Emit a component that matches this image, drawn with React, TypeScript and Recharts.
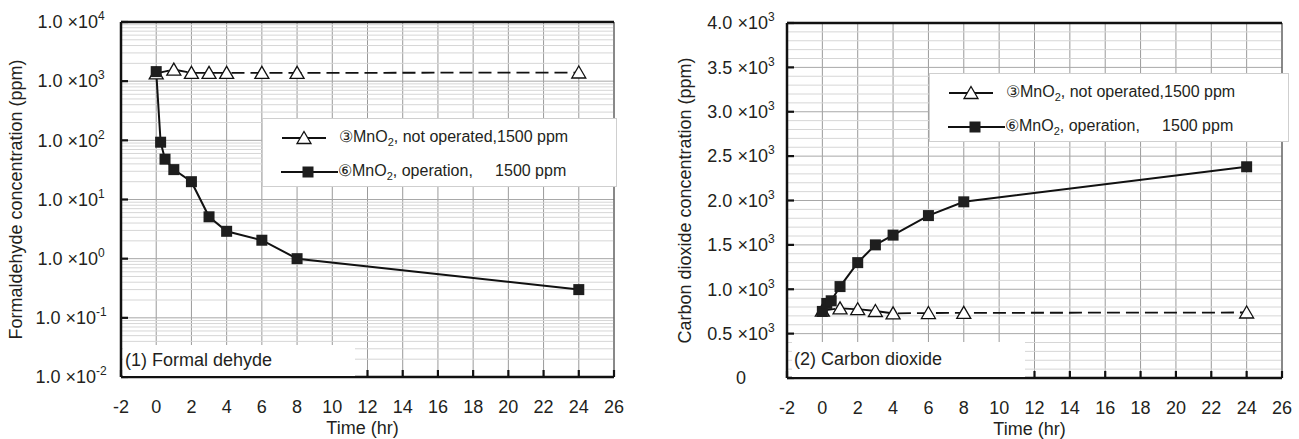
import React from 'react';
import { LineChart, Line, XAxis, YAxis, CartesianGrid, ReferenceLine, Label } from 'recharts';

const FONT = '"Liberation Sans", Arial, Helvetica, sans-serif';
const INK = '#231f20';
const FS = 18;
const SUP = 12;
const LFS = 16;

// ---- ticks ----
const timeTicks = [-2, 0, 2, 4, 6, 8, 10, 12, 14, 16, 18, 20, 22, 24, 26];
const hchoTicks = [0.01, 0.1, 1, 10, 100, 1000, 10000];
const co2Ticks = [0, 500, 1000, 1500, 2000, 2500, 3000, 3500, 4000];

// ---- formaldehyde (ppm) ----
const hchoIdleTime = [0, 1, 2, 3, 4, 6, 8, 24];
const hchoIdlePpm = [1350, 1570, 1380, 1380, 1380, 1380, 1380, 1400];
const hchoOperTime = [0, 0.25, 0.5, 1, 2, 3, 4, 6, 8, 24];
const hchoOperPpm = [1450, 93, 48, 32, 20, 5.1, 2.9, 2.05, 1.0, 0.3];

// ---- carbon dioxide (ppm) ----
const co2IdleTime = [0, 1, 2, 3, 4, 6, 8, 24];
const co2IdlePpm = [760, 785, 775, 755, 728, 732, 734, 738];
const co2OperTime = [0, 0.25, 0.5, 1, 2, 3, 4, 6, 8, 24];
const co2OperPpm = [750, 840, 870, 1030, 1300, 1500, 1610, 1830, 1985, 2380];

// ---- texts ----
const idleName = ['③MnO', '2', ', not operated,1500 ppm'];
const operName = ['⑥MnO', '2', ', operation,     1500 ppm'];
const hchoTitle = 'Formaldehyde concentration (ppm)';
const co2Title = 'Carbon dioxide concentration (ppm)';
const timeTitle = 'Time (hr)';
const hchoPanel = '(1) Formal dehyde';
const co2Panel = '(2) Carbon dioxide';

const zip = (t: number[], v: number[]) => t.map((x, i) => ({ t: x, v: v[i] }));
const hchoIdle = zip(hchoIdleTime, hchoIdlePpm);
const hchoOper = zip(hchoOperTime, hchoOperPpm);
const co2Idle = zip(co2IdleTime, co2IdlePpm);
const co2Oper = zip(co2OperTime, co2OperPpm);

// grid values
const hchoMinor: number[] = [];
for (let d = -2; d <= 3; d++) for (let m = 2; m <= 9; m++) hchoMinor.push(m * Math.pow(10, d));
const hchoMajor = [0.1, 1, 10, 100, 1000];
const co2Minor: number[] = [];
for (let v = 100; v < 4000; v += 100) if (v % 500 !== 0) co2Minor.push(v);
const co2Major = [500, 1000, 1500, 2000, 2500, 3000, 3500];

const Tri = ({ cx, cy }: { cx: number; cy: number }) => (
  <polygon
    points={`${cx},${cy - 6.5} ${cx + 7},${cy + 5.5} ${cx - 7},${cy + 5.5}`}
    fill="#fff"
    stroke="#111"
    strokeWidth={1.3}
  />
);
const Sq = ({ cx, cy }: { cx: number; cy: number }) => (
  <rect x={cx - 5.5} y={cy - 5.5} width={11} height={11} fill="#1e1e1e" />
);

const triDot = (p: any) => <Tri key={`t${p.index}`} cx={p.cx} cy={p.cy} />;
const sqDot = (p: any) => <Sq key={`s${p.index}`} cx={p.cx} cy={p.cy} />;

const LogTick = (props: any) => {
  const { x, y, payload } = props;
  const e = Math.round(Math.log10(payload.value));
  return (
    <g>
      <line x1={x} y1={y} x2={x + 7} y2={y} stroke="#111" strokeWidth={2.2} />
      <text x={x - 50} y={y + 6.3} textAnchor="middle" fontSize={FS} fontFamily={FONT} fill={INK}>
        1.0 ×10<tspan dy={-8} fontSize={SUP}>{e}</tspan>
      </text>
    </g>
  );
};

const LinTick = (props: any) => {
  const { x, y, payload } = props;
  const v = payload.value as number;
  return (
    <g>
      <line x1={x} y1={y} x2={x + 7} y2={y} stroke="#111" strokeWidth={2.2} />
      {v === 0 ? (
        <text x={x - 46} y={y + 6.3} textAnchor="middle" fontSize={FS} fontFamily={FONT} fill={INK}>0</text>
      ) : (
        <text x={x - 46} y={y + 6.3} textAnchor="middle" fontSize={FS} fontFamily={FONT} fill={INK}>
          {(v / 1000).toFixed(1)} ×10<tspan dy={-8} fontSize={SUP}>3</tspan>
        </text>
      )}
    </g>
  );
};

const TimeTick = (props: any) => {
  const { x, y, payload } = props;
  return (
    <g>
      <line x1={x} y1={y} x2={x} y2={y - 7} stroke="#111" strokeWidth={2.2} />
      <text x={x} y={y + 36} textAnchor="middle" fontSize={FS} fontFamily={FONT} fill={INK}>
        {payload.value}
      </text>
    </g>
  );
};

const yTitle = (text: string, dx: number) => (props: any) => {
  const vb = props.viewBox || {};
  const cx = vb.x + dx;
  const cy = vb.y + vb.height / 2;
  return (
    <text
      x={cx}
      y={cy}
      transform={`rotate(-90, ${cx}, ${cy})`}
      textAnchor="middle"
      dominantBaseline="central"
      fontSize={FS}
      fontFamily={FONT}
      fill={INK}
    >
      {text}
    </text>
  );
};

const xTitle = (props: any) => {
  const vb = props.viewBox || {};
  return (
    <text x={vb.x + vb.width / 2 - 5} y={vb.y + 57} textAnchor="middle" fontSize={FS} fontFamily={FONT} fill={INK}>
      {timeTitle}
    </text>
  );
};

const LegendBox = ({ left, top, width, height }: { left: number; top: number; width: number; height: number }) => {
  const r1 = 19;
  const r2 = 53;
  const txt: React.CSSProperties = { position: 'absolute', whiteSpace: 'pre', lineHeight: '22px', fontSize: LFS };
  const sub: React.CSSProperties = { fontSize: 11, verticalAlign: '-4px', lineHeight: 0 };
  return (
    <div
      style={{
        position: 'absolute',
        left,
        top,
        width,
        height,
        background: '#fff',
        border: '1px solid #cfcfcf',
        boxSizing: 'border-box',
        fontFamily: FONT,
        color: INK,
      }}
    >
      <svg style={{ position: 'absolute', left: 0, top: 0 }} width={width} height={height}>
        <line x1={19} y1={r1} x2={63} y2={r1} stroke="#111" strokeWidth={2} />
        <Tri cx={41} cy={r1} />
        <line x1={18} y1={r2} x2={75} y2={r2} stroke="#111" strokeWidth={2} />
        <Sq cx={45} cy={r2} />
      </svg>
      <div style={{ ...txt, left: 76, top: r1 - 12 }}>
        {idleName[0]}
        <sub style={sub}>{idleName[1]}</sub>
        {idleName[2]}
      </div>
      <div style={{ ...txt, left: 75, top: r2 - 12 }}>
        {operName[0]}
        <sub style={sub}>{operName[1]}</sub>
        {operName[2]}
      </div>
    </div>
  );
};

const PanelLabel = ({ left, top, width, height, text }: any) => (
  <div
    style={{
      position: 'absolute',
      left,
      top,
      width,
      height,
      background: '#fff',
      fontFamily: FONT,
      fontSize: FS,
      color: INK,
      lineHeight: `${height}px`,
      paddingLeft: 2,
      boxSizing: 'border-box',
      whiteSpace: 'pre',
    }}
  >
    {text}
  </div>
);

export default function App() {
  return (
    <div style={{ position: 'absolute', left: 0, top: 0, width: 1299, height: 439, background: '#fff' }}>
      {/* Left: formaldehyde */}
      <div style={{ position: 'absolute', left: 0, top: 0, width: 640, height: 439 }}>
        <LineChart width={640} height={439} margin={{ top: 22, right: 26, bottom: 22, left: 0 }}>
          <CartesianGrid horizontal={false} vertical stroke="#9a9a9a" strokeWidth={1} />
          {hchoMinor.map((v) => (
            <ReferenceLine key={`hm${v}`} y={v} stroke="#d6d6d6" strokeWidth={1} />
          ))}
          {hchoMajor.map((v) => (
            <ReferenceLine key={`hM${v}`} y={v} stroke="#a8a8a8" strokeWidth={1} />
          ))}
          <ReferenceLine x={26} stroke="#444" strokeWidth={1} />
          <ReferenceLine y={10000} stroke="#111" strokeWidth={2.5} />
          <XAxis
            dataKey="t"
            type="number"
            domain={[-2, 26]}
            ticks={timeTicks}
            interval={0}
            allowDataOverflow
            height={40}
            tickSize={0}
            tickMargin={0}
            tickLine={false}
            tick={<TimeTick />}
            axisLine={{ stroke: '#111', strokeWidth: 2.5 }}
          >
            <Label content={xTitle} />
          </XAxis>
          <YAxis
            type="number"
            scale="log"
            domain={[0.01, 10000]}
            ticks={hchoTicks}
            interval={0}
            allowDataOverflow
            width={121}
            tickSize={0}
            tickMargin={0}
            tickLine={false}
            tick={<LogTick />}
            axisLine={{ stroke: '#111', strokeWidth: 2.5 }}
          >
            <Label content={yTitle(hchoTitle, 16)} />
          </YAxis>
          <Line
            data={hchoIdle}
            dataKey="v"
            type="linear"
            stroke="#111"
            strokeWidth={1.8}
            strokeDasharray="13 6"
            dot={triDot}
            isAnimationActive={false}
          />
          <Line
            data={hchoOper}
            dataKey="v"
            type="linear"
            stroke="#111"
            strokeWidth={2}
            dot={sqDot}
            isAnimationActive={false}
          />
        </LineChart>
        <LegendBox left={262} top={118} width={355} height={69} />
        <PanelLabel left={123} top={345} width={232} height={31} text={hchoPanel} />
      </div>

      {/* Right: carbon dioxide */}
      <div style={{ position: 'absolute', left: 660, top: 0, width: 639, height: 439 }}>
        <LineChart width={639} height={439} margin={{ top: 23, right: 17, bottom: 21, left: 0 }}>
          <CartesianGrid horizontal={false} vertical stroke="#9a9a9a" strokeWidth={1} />
          {co2Minor.map((v) => (
            <ReferenceLine key={`cm${v}`} y={v} stroke="#d6d6d6" strokeWidth={1} />
          ))}
          {co2Major.map((v) => (
            <ReferenceLine key={`cM${v}`} y={v} stroke="#a8a8a8" strokeWidth={1} />
          ))}
          <ReferenceLine x={26} stroke="#444" strokeWidth={1} />
          <ReferenceLine y={4000} stroke="#111" strokeWidth={2.5} />
          <XAxis
            dataKey="t"
            type="number"
            domain={[-2, 26]}
            ticks={timeTicks}
            interval={0}
            allowDataOverflow
            height={40}
            tickSize={0}
            tickMargin={0}
            tickLine={false}
            tick={<TimeTick />}
            axisLine={{ stroke: '#111', strokeWidth: 2.5 }}
          >
            <Label content={xTitle} />
          </XAxis>
          <YAxis
            type="number"
            domain={[0, 4000]}
            ticks={co2Ticks}
            interval={0}
            allowDataOverflow
            width={127}
            tickSize={0}
            tickMargin={0}
            tickLine={false}
            tick={<LinTick />}
            axisLine={{ stroke: '#111', strokeWidth: 2.5 }}
          >
            <Label content={yTitle(co2Title, 25)} />
          </YAxis>
          <Line
            data={co2Idle}
            dataKey="v"
            type="linear"
            stroke="#111"
            strokeWidth={1.8}
            strokeDasharray="13 6"
            dot={triDot}
            isAnimationActive={false}
          />
          <Line
            data={co2Oper}
            dataKey="v"
            type="linear"
            stroke="#111"
            strokeWidth={2}
            dot={sqDot}
            isAnimationActive={false}
          />
        </LineChart>
        <LegendBox left={269} top={73} width={360} height={69} />
        <PanelLabel left={132} top={342} width={233} height={35} text={co2Panel} />
      </div>
    </div>
  );
}
